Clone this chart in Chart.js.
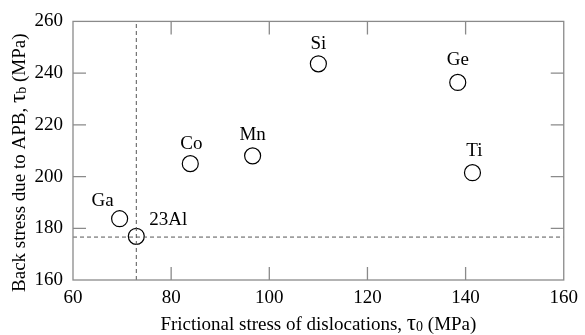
<!DOCTYPE html>
<html><head><meta charset="utf-8">
<script src="https://cdn.jsdelivr.net/npm/chart.js@4/dist/chart.umd.min.js"></script>
<style>html,body{margin:0;padding:0;background:#fff}#wrap{width:585px;height:335px}</style>
</head><body><div id="wrap"><canvas id="c" width="585" height="335"></canvas></div>
<script>
const elements = ["Ga","23Al","Co","Mn","Si","Ge","Ti"];
const frictionalStress = [69.5, 72.9, 83.9, 96.6, 110.0, 138.4, 141.4];
const backStress = [183.7, 176.9, 205.0, 208.0, 243.6, 236.4, 201.5];
const refFrictional = 72.9;
const refBack = 176.6;
const xTicks = [60, 80, 100, 120, 140, 160];
const yTicks = [160, 180, 200, 220, 240, 260];

// label placement (style, not data)
const labelPos = {
  "Ga": {dx:-17, dy:-18, align:"center"},
  "23Al": {dx:13, dy:-16, align:"left"},
  "Co": {dx:1, dy:-20, align:"center"},
  "Mn": {dx:0, dy:-21, align:"center"},
  "Si": {dx:0, dy:-20, align:"center"},
  "Ge": {dx:0, dy:-22, align:"center"},
  "Ti": {dx:2, dy:-22, align:"center"}
};
const FONT = '"Liberation Serif", "Times New Roman", serif';
const FS = 19;
const frameColor = '#8a8a8a';

const pts = elements.map((e,i)=>({x:frictionalStress[i], y:backStress[i]}));

const decor = {
  id:'decor',
  afterDatasetsDraw(chart){
    const {ctx, chartArea:a, scales:{x,y}} = chart;
    ctx.save();
    ctx.strokeStyle = frameColor; ctx.lineWidth = 1.3;
    ctx.strokeRect(a.left, a.top, a.right-a.left, a.bottom-a.top);
    const L = 13;
    ctx.beginPath();
    xTicks.slice(1,-1).forEach(v=>{
      const px = x.getPixelForValue(v);
      ctx.moveTo(px, a.bottom); ctx.lineTo(px, a.bottom-L);
      ctx.moveTo(px, a.top); ctx.lineTo(px, a.top+L);
    });
    yTicks.slice(1,-1).forEach(v=>{
      const py = y.getPixelForValue(v);
      ctx.moveTo(a.left, py); ctx.lineTo(a.left+L, py);
      ctx.moveTo(a.right, py); ctx.lineTo(a.right-L, py);
    });
    ctx.stroke();
    ctx.fillStyle = '#000';
    ctx.font = FS + 'px ' + FONT;
    ctx.textBaseline = 'middle';
    elements.forEach((e,i)=>{
      const p = labelPos[e];
      ctx.textAlign = p.align;
      ctx.fillText(e, x.getPixelForValue(frictionalStress[i]) + p.dx, y.getPixelForValue(backStress[i]) + p.dy);
    });
    function drawTitle(parts, cx, cy, rot){
      ctx.save();
      ctx.translate(cx, cy); ctx.rotate(rot);
      let w = 0;
      parts.forEach(p=>{ ctx.font = p[1]+'px '+FONT; w += ctx.measureText(p[0]).width; });
      let xx = -w/2;
      ctx.textAlign='left'; ctx.textBaseline='alphabetic';
      parts.forEach(p=>{ ctx.font = p[1]+'px '+FONT; ctx.fillText(p[0], xx, 6 + (p[2]||0)); xx += ctx.measureText(p[0]).width; });
      ctx.restore();
    }
    drawTitle([["Frictional stress of dislocations, ",FS],["τ",FS+4],["0",14,1],[" (MPa)",FS]], (a.left+a.right)/2, 324, 0);
    drawTitle([["Back stress due to APB, ",FS],["τ",FS+4],["b",14,1],[" (MPa)",FS]], 19, (a.top+a.bottom)/2 + 12, -Math.PI/2);
    ctx.restore();
  }
};

new Chart(document.getElementById('c'), {
  type:'scatter',
  data:{datasets:[
    {data:[{x:refFrictional,y:yTicks[0]},{x:refFrictional,y:yTicks[yTicks.length-1]}], showLine:true, borderColor:'#555', borderWidth:1, borderDash:[4,3], pointRadius:0},
    {data:[{x:xTicks[0],y:refBack},{x:xTicks[xTicks.length-1],y:refBack}], showLine:true, borderColor:'#555', borderWidth:1, borderDash:[4,3], pointRadius:0},
    {data:pts, pointRadius:8, pointBorderWidth:1.2, pointBorderColor:'#000', pointBackgroundColor:'#fff', pointStyle:'circle'}
  ]},
  options:{
    responsive:false, animation:false,
    layout:{padding:{top:13, right:19, left:0, bottom:0}},
    plugins:{legend:{display:false}, tooltip:{enabled:false}},
    scales:{
      x:{type:'linear', min:60, max:160, afterBuildTicks:s=>{s.ticks = xTicks.map(v=>({value:v}));},
        grid:{display:false, drawTicks:false}, border:{display:false},
        ticks:{color:'#000', font:{family:FONT, size:FS}, padding:7, maxRotation:0},
        afterFit:s=>{s.height = 55;}},
      y:{type:'linear', min:160, max:260, afterBuildTicks:s=>{s.ticks = yTicks.map(v=>({value:v}));},
        grid:{display:false, drawTicks:false}, border:{display:false},
        ticks:{color:'#000', font:{family:FONT, size:FS}, padding:10},
        afterFit:s=>{s.width = 73;}}
    }
  },
  plugins:[decor]
});
</script></body></html>
